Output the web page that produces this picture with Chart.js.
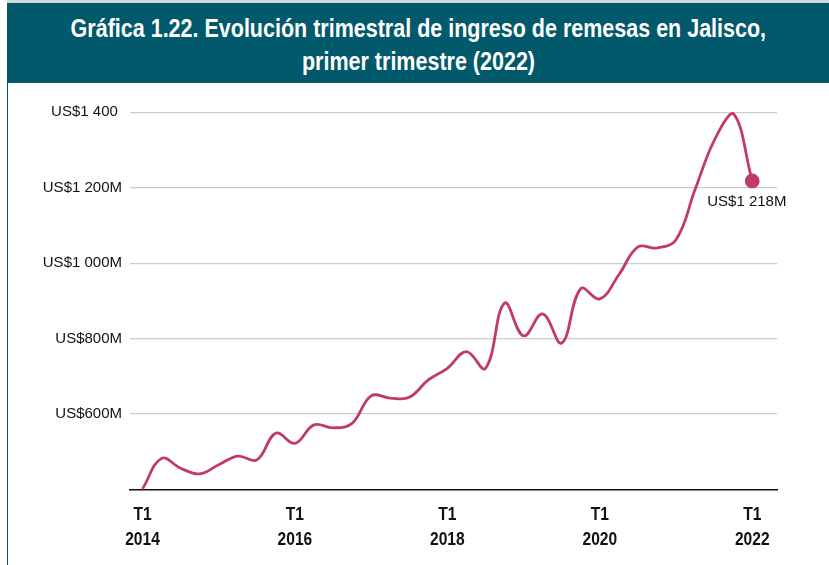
<!DOCTYPE html>
<html>
<head>
<meta charset="utf-8">
<script src="https://cdn.jsdelivr.net/npm/chart.js@4.4.0/dist/chart.umd.min.js"></script>
<style>
  body { margin: 0; background: #fff; width: 829px; height: 565px; overflow: hidden; position: relative; }
  #marco { position: absolute; left: 7px; top: 3px; right: 0; bottom: 0; border-left: 1px solid #02596b; }
  #borde { position: absolute; left: 7px; top: 0; right: 0; height: 3px; background: #d4d8d9; }
  #titulo {
    position: absolute; left: 7px; top: 3px; width: 822px; height: 80px;
    background: #02596b; color: #fff; text-align: center;
    font-family: 'Liberation Sans', Arial, sans-serif; font-weight: bold;
    font-size: 25px; line-height: 33px; padding-top: 9px; box-sizing: border-box;
  }
  #titulo span { display: inline-block; transform: scaleX(0.86); white-space: nowrap; }
  #lienzo { position: absolute; left: 0; top: 83px; }
</style>
</head>
<body>
<div id="borde"></div>
<div id="marco"></div>
<div id="titulo"><span>Gráfica 1.22. Evolución trimestral de ingreso de remesas en Jalisco,</span><br><span>primer trimestre (2022)</span></div>
<canvas id="lienzo" width="829" height="482"></canvas>
<script>
// Trimestres (T1 2014 a T1 2022)
const trimestres = [
  'T1 2014', 'T2 2014', 'T3 2014', 'T4 2014',
  'T1 2015', 'T2 2015', 'T3 2015', 'T4 2015',
  'T1 2016', 'T2 2016', 'T3 2016', 'T4 2016',
  'T1 2017', 'T2 2017', 'T3 2017', 'T4 2017',
  'T1 2018', 'T2 2018', 'T3 2018', 'T4 2018',
  'T1 2019', 'T2 2019', 'T3 2019', 'T4 2019',
  'T1 2020', 'T2 2020', 'T3 2020', 'T4 2020',
  'T1 2021', 'T2 2021', 'T3 2021', 'T4 2021',
  'T1 2022'
];

// Ingreso de remesas, millones de dólares
const remesas = [
  401, 482, 456, 441,
  465, 488, 478, 549,
  522, 571, 563, 575,
  648, 642, 644, 690,
  721, 765, 721, 894,
  807, 865, 788, 932,
  905, 969, 1043, 1040,
  1062, 1195, 1325, 1397,
  1218
];

// Etiquetas de los ejes
const ticksX = [0, 8, 16, 24, 32];
const etiquetasX = [['T1', '2014'], ['T1', '2016'], ['T1', '2018'], ['T1', '2020'], ['T1', '2022']];
const ticksY = [400, 600, 800, 1000, 1200, 1400];
const etiquetasY = ['', 'US$600M', 'US$800M', 'US$1 000M', 'US$1 200M', 'US$1 400 '];
const etiquetaFinal = 'US$1 218M';

const colorLinea = '#c13a6c';

// Etiqueta del último dato
const etiquetaUltimo = {
  id: 'etiquetaUltimo',
  afterDatasetsDraw(chart) {
    const meta = chart.getDatasetMeta(0);
    const p = meta.data[meta.data.length - 1];
    const ctx = chart.ctx;
    ctx.save();
    ctx.font = '15px "Liberation Sans", Arial, sans-serif';
    ctx.fillStyle = '#111';
    ctx.textAlign = 'left';
    ctx.textBaseline = 'middle';
    ctx.fillText(etiquetaFinal, p.x - 45, p.y + 21);
    ctx.restore();
  }
};

// Etiquetas del eje x en letra condensada (posición tomada de la escala)
const etiquetasEjeX = {
  id: 'etiquetasEjeX',
  afterDraw(chart) {
    const escala = chart.scales.x;
    const ctx = chart.ctx;
    ctx.save();
    ctx.font = 'bold 19px "Liberation Sans", Arial, sans-serif';
    ctx.fillStyle = '#111';
    ctx.textAlign = 'center';
    ctx.textBaseline = 'middle';
    ticksX.forEach((t, i) => {
      const x = escala.getPixelForValue(t);
      etiquetasX[i].forEach((linea, j) => {
        ctx.save();
        ctx.translate(x, chart.chartArea.bottom + 25 + j * 25);
        ctx.scale(0.82, 1);
        ctx.fillText(linea, 0, 0);
        ctx.restore();
      });
    });
    ctx.restore();
  }
};

let ctx = document.getElementById('lienzo').getContext('2d');
let chart = new Chart(ctx, {
  type: 'line',
  data: {
    datasets: [{
      label: 'Remesas',
      data: remesas.map((v, i) => ({ x: i, y: v })),
      borderColor: colorLinea,
      backgroundColor: colorLinea,
      borderWidth: 2.8,
      tension: 0.4,
      pointRadius: remesas.map((v, i) => i === remesas.length - 1 ? 6 : 0),
      pointHoverRadius: 0,
      clip: false
    }]
  },
  options: {
    responsive: false,
    animation: false,
    layout: { padding: { top: 29.3, right: 52, left: 0, bottom: 0 } },
    plugins: { legend: { display: false }, tooltip: { enabled: false } },
    scales: {
      x: {
        type: 'linear',
        min: -0.656,
        max: 33.3,
        afterBuildTicks: (scale) => { scale.ticks = ticksX.map(v => ({ value: v })); },
        afterFit: (scale) => { scale.height = 75.7; },
        grid: { display: false, drawTicks: false },
        border: { display: true, color: '#111', width: 1.5 },
        ticks: { display: false }
      },
      y: {
        min: 400,
        max: 1400,
        afterBuildTicks: (scale) => { scale.ticks = ticksY.map(v => ({ value: v })); },
        afterFit: (scale) => { scale.width = 130; },
        grid: {
          drawTicks: false,
          color: (c) => c.tick && c.tick.value === 400 ? 'rgba(0,0,0,0)' : '#cccccc',
          lineWidth: 1.2
        },
        border: { display: false },
        ticks: {
          padding: 8,
          color: '#111',
          font: { family: '"Liberation Sans", Arial, sans-serif', size: 15 },
          callback: (v) => etiquetasY[ticksY.indexOf(v)]
        }
      }
    }
  },
  plugins: [etiquetaUltimo, etiquetasEjeX]
});
</script>
</body>
</html>
